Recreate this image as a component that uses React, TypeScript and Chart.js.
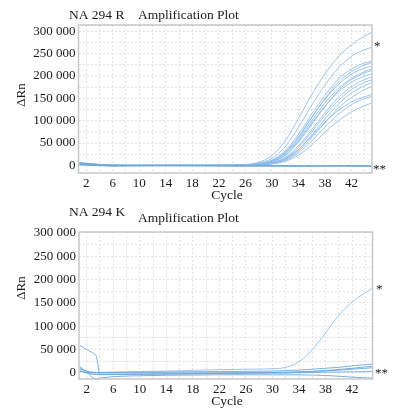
import React, { useEffect, useRef } from "react";
import { Chart, registerables } from "chart.js";

Chart.register(...registerables);

const FONT = '"Liberation Serif", "Times New Roman", serif';

// ---------- shared axis data ----------
const X_TICKS = [2, 4, 6, 8, 10, 12, 14, 16, 18, 20, 22, 24, 26, 28, 30, 32, 34, 36, 38, 40, 42, 44];
const X_LABELS = [2, 6, 10, 14, 18, 22, 26, 30, 34, 38, 42];
const Y_TICKS = [0, 25000, 50000, 75000, 100000, 125000, 150000, 175000, 200000, 225000, 250000, 275000, 300000];
const Y_LABELS = [0, 50000, 100000, 150000, 200000, 250000, 300000];

// ---------- panel R (top) ----------
const CYCLES_R = [1, 3, 6, 10, 15, 20, 24, 26, 28, 30, 32, 34, 36, 38, 40, 42, 44, 45];
const R_AMP_1 = [4000, 2500, 500, 0, 0, 0, 500, 2000, 7000, 22000, 55000, 105000, 158000, 205000, 243000, 270000, 290000, 297000];
const R_AMP_2 = [3000, 2000, 0, -500, 0, 0, 300, 1500, 5000, 16000, 42000, 85000, 135000, 180000, 218000, 244000, 259000, 264000];
const R_AMP_3 = [5000, 3000, 500, 0, 0, 0, 300, 1200, 4000, 12000, 33000, 70000, 115000, 157000, 193000, 216000, 229000, 233000];
const R_AMP_4 = [2000, 1000, -500, 0, 0, 0, 200, 1000, 3500, 10000, 28000, 62000, 107000, 150000, 186000, 210000, 225000, 230000];
const R_AMP_5 = [3000, 1500, 0, 0, 0, 0, 300, 1200, 3800, 11000, 30000, 65000, 108000, 148000, 181000, 204000, 218000, 222000];
const R_AMP_6 = [6000, 3500, 1000, 0, 0, 0, 200, 1000, 3000, 9000, 26000, 58000, 100000, 140000, 172000, 195000, 210000, 215000];
const R_AMP_7 = [3000, 1500, 0, 0, 0, 0, 200, 800, 2500, 8000, 22000, 52000, 92000, 132000, 167000, 192000, 207000, 212000];
const R_AMP_8 = [4000, 2000, 0, 0, 0, 0, 200, 800, 2500, 8000, 23000, 55000, 95000, 133000, 164000, 186000, 200000, 204000];
const R_AMP_9 = [2500, 1000, 0, 0, 0, 0, 100, 600, 2000, 6000, 18000, 44000, 80000, 118000, 152000, 176000, 192000, 197000];
const R_AMP_10 = [5000, 2500, 500, 0, 0, 0, 100, 500, 1800, 5500, 16000, 40000, 75000, 112000, 145000, 170000, 186000, 191000];
const R_AMP_11 = [3500, 2000, 0, 0, 0, 0, 100, 500, 1500, 5000, 14000, 35000, 68000, 104000, 137000, 162000, 179000, 185000];
const R_AMP_12 = [2000, 1000, 0, 0, 0, 0, 100, 400, 1300, 4500, 13000, 32000, 62000, 96000, 128000, 152000, 170000, 176000];
const R_AMP_13 = [4000, 2000, 0, 0, 0, 0, 100, 500, 1500, 5000, 15000, 36000, 66000, 97000, 123000, 142000, 154000, 158000];
const R_AMP_14 = [2000, 1000, 0, 0, 0, 0, 100, 400, 1200, 4000, 11000, 28000, 55000, 86000, 114000, 136000, 150000, 154000];
const R_AMP_15 = [3000, 1500, 0, 0, 0, 0, 0, 300, 1000, 3000, 9000, 23000, 46000, 74000, 100000, 120000, 134000, 139000];
const R_FLAT_1 = [3000, 1500, -1000, -500, -500, -1000, -1000, -1000, -1000, -1000, -1000, -1500, -1500, -1500, -1000, -1000, -1500, -1500];
const R_FLAT_2 = [6000, 3000, 0, 0, 0, 0, -500, -500, -500, -500, -500, -500, -1000, -1000, -1000, -500, -500, -500];
const R_FLAT_3 = [1000, 0, -1500, -1000, -1000, -1000, -1500, -1500, -1500, -1500, -2000, -2000, -2000, -1500, -1500, -2000, -2000, -2000];

const R_AMP = [R_AMP_1, R_AMP_2, R_AMP_3, R_AMP_4, R_AMP_5, R_AMP_6, R_AMP_7, R_AMP_8, R_AMP_9, R_AMP_10, R_AMP_11, R_AMP_12, R_AMP_13, R_AMP_14, R_AMP_15];
const R_FLAT = [R_FLAT_1, R_FLAT_2, R_FLAT_3];

// ---------- panel K (bottom) ----------
const CYCLES_K = [1, 2, 3, 3.5, 4, 6, 10, 14, 18, 22, 26, 30, 32, 34, 36, 38, 40, 42, 44, 45];
const K_AMP_1 = [10000, 3000, 0, 500, 1000, 2000, 3000, 4000, 5500, 7000, 8000, 9000, 12000, 24000, 50000, 86000, 124000, 152000, 172000, 181000];
const K_FLAT_1 = [59000, 50000, 42000, 34000, -3000, -3500, -3000, -2500, -2000, -1000, 0, 1000, 1500, 2500, 3500, 4500, 6000, 8000, 10000, 11000];
const K_FLAT_2 = [13000, 2000, -11000, -12000, -11000, -8000, -6000, -5000, -4500, -4000, -4000, -4000, -4000, -4000, -4500, -5500, -7000, -9000, -10500, -11000];
const K_FLAT_3 = [9000, 4000, 1500, 1000, 1000, 1000, 1500, 2000, 2500, 3000, 3500, 4000, 5000, 6000, 8000, 10000, 12000, 15000, 18000, 19000];
const K_FLAT_4 = [5000, 0, -3000, -3500, -3500, -3000, -2500, -2000, -1500, -1000, -500, 0, 500, 1500, 3000, 5000, 7500, 10000, 13000, 14000];
const K_FLAT_5 = [3000, 1000, 0, 0, 0, 0, 0, 0, 0, 0, 0, 0, 0, 500, 1000, 1500, 2000, 2500, 3000, 3500];

const K_AMP = [K_AMP_1];
const K_FLAT = [K_FLAT_1, K_FLAT_2, K_FLAT_3, K_FLAT_4, K_FLAT_5];

const AMP_COLOR = "rgba(140,188,234,0.85)";
const FLAT_COLOR = "rgba(110,165,218,0.9)";
const GRID_COLOR = "#e2e2e2";

type TextItem = { text: string; x: number; y: number; size: number; align?: CanvasTextAlign; rotate?: boolean };

function fmtY(v: number): string {
  if (v === 0) return "0";
  return `${v / 1000} 000`;
}

function makeConfig(opts: {
  cycles: number[];
  amp: number[][];
  flat: number[][];
  yMin: number;
  yMax: number;
  padTop: number;
  padRight: number;
  yWidth: number;
  xHeight: number;
  texts: TextItem[];
}): any {
  const mk = (arr: number[], color: string) => ({
    data: opts.cycles.map((c, i) => ({ x: c, y: arr[i] })),
    borderColor: color,
    borderWidth: 1,
    pointRadius: 0,
    fill: false,
    cubicInterpolationMode: "monotone",
  });
  const datasets = [
    ...opts.flat.map((a) => mk(a, FLAT_COLOR)),
    ...opts.amp.map((a) => mk(a, AMP_COLOR)),
  ];
  const textPlugin = {
    id: "panelTexts",
    afterDraw(chart: any) {
      const ctx = chart.ctx as CanvasRenderingContext2D;
      const a = chart.chartArea;
      ctx.save();
      ctx.strokeStyle = "#c8c8c8";
      ctx.lineWidth = 1.5;
      ctx.strokeRect(a.left, a.top, a.right - a.left, a.bottom - a.top);
      ctx.fillStyle = "#1a1a1a";
      for (const t of opts.texts) {
        ctx.font = `${t.size}px ${FONT}`;
        ctx.textAlign = t.align || "left";
        if (t.rotate) {
          ctx.save();
          ctx.translate(t.x, t.y);
          ctx.rotate(-Math.PI / 2);
          ctx.textBaseline = "middle";
          ctx.textAlign = "center";
          ctx.fillText(t.text, 0, 0);
          ctx.restore();
        } else {
          ctx.textBaseline = "alphabetic";
          ctx.fillText(t.text, t.x, t.y);
        }
      }
      ctx.restore();
    },
  };
  return {
    type: "line",
    data: { datasets },
    plugins: [textPlugin],
    options: {
      animation: false,
      responsive: false,
      devicePixelRatio: 1,
      layout: { padding: { top: opts.padTop, right: opts.padRight, left: 0, bottom: 0 } },
      plugins: { legend: { display: false }, tooltip: { enabled: false }, title: { display: false } },
      scales: {
        x: {
          type: "linear",
          min: 0.85,
          max: 45.07,
          afterBuildTicks: (s: any) => {
            s.ticks = X_TICKS.map((v) => ({ value: v }));
          },
          afterFit: (s: any) => {
            s.height = opts.xHeight;
          },
          grid: { color: GRID_COLOR, lineWidth: 1, drawTicks: false },
          border: { display: false, dash: [2, 2] },
          ticks: {
            autoSkip: false,
            maxRotation: 0,
            padding: 3,
            color: "#1a1a1a",
            font: { family: FONT, size: 13 },
            callback: (v: number) => (X_LABELS.includes(v) ? String(v) : ""),
          },
        },
        y: {
          type: "linear",
          min: opts.yMin,
          max: opts.yMax,
          afterBuildTicks: (s: any) => {
            s.ticks = Y_TICKS.map((v) => ({ value: v }));
          },
          afterFit: (s: any) => {
            s.width = opts.yWidth;
          },
          grid: { color: GRID_COLOR, lineWidth: 1, drawTicks: false },
          border: { display: false, dash: [2, 2] },
          ticks: {
            autoSkip: false,
            padding: 3,
            color: "#1a1a1a",
            font: { family: FONT, size: 13 },
            callback: (v: number) => (Y_LABELS.includes(v) ? fmtY(v) : ""),
          },
        },
      },
    },
  };
}

function Panel(props: { config: any; top: number }) {
  const ref = useRef<HTMLCanvasElement | null>(null);
  useEffect(() => {
    if (!ref.current) return;
    const chart = new Chart(ref.current, props.config);
    return () => chart.destroy();
  }, []);
  return (
    <canvas
      ref={ref}
      width={398}
      height={205}
      style={{ position: "absolute", left: 0, top: props.top, width: 398, height: 205 }}
    />
  );
}

export default function App() {
  const topConfig = makeConfig({
    cycles: CYCLES_R,
    amp: R_AMP,
    flat: R_FLAT,
    yMin: -17000,
    yMax: 314000,
    padTop: 25,
    padRight: 26,
    yWidth: 78.5,
    xHeight: 32,
    texts: [
      { text: "NA 294 R", x: 69, y: 18.5, size: 13.5 },
      { text: "Amplification Plot", x: 138, y: 18.5, size: 13.5 },
      { text: "ΔRn", x: 22, y: 95, size: 13, rotate: true },
      { text: "Cycle", x: 227, y: 198.5, size: 13.5, align: "center" },
      { text: "*", x: 374, y: 50, size: 13 },
      { text: "**", x: 373, y: 173, size: 13 },
    ],
  });
  const bottomConfig = makeConfig({
    cycles: CYCLES_K,
    amp: K_AMP,
    flat: K_FLAT,
    yMin: -13000,
    yMax: 302000,
    padTop: 27,
    padRight: 25.5,
    yWidth: 79,
    xHeight: 31,
    texts: [
      { text: "NA 294 K", x: 69, y: 11, size: 13.5 },
      { text: "Amplification Plot", x: 138, y: 16.5, size: 13.5 },
      { text: "ΔRn", x: 22, y: 83, size: 13, rotate: true },
      { text: "Cycle", x: 227, y: 200, size: 13.5, align: "center" },
      { text: "*", x: 376, y: 88, size: 13 },
      { text: "**", x: 375, y: 171.5, size: 13 },
    ],
  });
  return (
    <div style={{ position: "absolute", left: 0, top: 0, width: 398, height: 410, background: "#fff" }}>
      <Panel config={topConfig} top={0} />
      <Panel config={bottomConfig} top={205} />
    </div>
  );
}
